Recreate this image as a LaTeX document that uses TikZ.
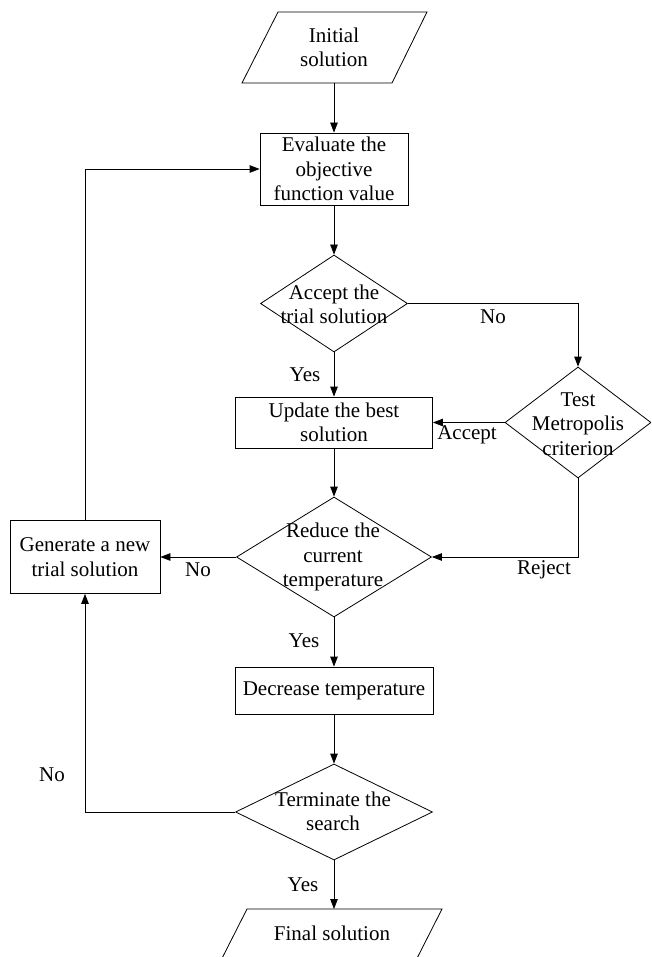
\documentclass[tikz,border=0pt]{standalone}
\usepackage{fontspec}
\setmainfont{Liberation Serif}
\usetikzlibrary{shapes.geometric,arrows.meta}
\begin{document}
\begin{tikzpicture}[x=1pt,y=-1pt, line width=0.8pt,
 txt/.style={font=\fontsize{21}{24.5}\selectfont, align=center, inner sep=0pt},
 box/.style={draw, rectangle, inner sep=0pt, txt},
 dia/.style={draw, diamond, inner sep=0pt},
 arr/.style={-{Triangle[length=10pt,width=7.5pt]}},
 lbl/.style={font=\fontsize{21}{24.5}\selectfont, inner sep=0pt}]
\clip (0,0) rectangle (651,957);
% parallelograms
\coordinate (i1) at (278,12); \coordinate (i2) at (427,12);
\coordinate (i3) at (392,83); \coordinate (i4) at (242,83);
\draw (i1) -- (i2) -- (i3) -- (i4) -- cycle;
\coordinate (initb) at (334,83);
\node[txt] (initt) at (334,47.5) {Initial\\solution};
\coordinate (f1) at (247,909); \coordinate (f2) at (442,909);
\coordinate (f3) at (406,980); \coordinate (f4) at (211,980);
\draw (f1) -- (f2) -- (f3) -- (f4) -- cycle;
\coordinate (fint) at (334,909);
\node[txt] (fintx) at (332,933) {Final solution};
% shapes
\node[box, minimum width=148pt, minimum height=72pt] (eval) at (334,169) {Evaluate the\\objective\\function value};
\node[dia, minimum width=147pt, minimum height=97pt] (acc) at (334,303.5) {};
\node[txt] (acct) at (334,304.5) {Accept the\\trial solution};
\node[box, minimum width=197pt, minimum height=51pt] (upd) at (334,422.5) {Update the best\\solution};
\node[dia, minimum width=146pt, minimum height=111pt] (test) at (578,422.5) {};
\node[txt] (testt) at (578,424) {Test\\Metropolis\\criterion};
\node[dia, minimum width=195pt, minimum height=120pt] (red) at (334,557) {};
\node[txt] (redt) at (333,557) {Reduce the\\current\\temperature};
\node[box, minimum width=150pt, minimum height=73pt] (gen) at (85,557) {Generate a new\\trial solution};
\node[box, minimum width=198pt, minimum height=47pt] (dec) at (334,690.5) {Decrease temperature};
\node[dia, minimum width=197pt, minimum height=96pt] (term) at (334,812) {};
\node[txt] (termt) at (333,811.5) {Terminate the\\search};
% connectors
\coordinate (c1) at (578,303.5);
\coordinate (c2) at (578,557);
\coordinate (c3) at (85,169);
\coordinate (c4) at (85,812);
\draw[arr] (initb) -- (initb |- eval.north);
\draw[arr] (eval.south) -- (acc.north);
\draw[arr] (acc.south) -- (upd.north);
\draw[arr] (acc.east) -- (c1) -- (test.north);
\draw[arr] (test.west) -- (upd.east);
\draw[arr] (upd.south) -- (red.north);
\draw[arr] (test.south) -- (c2) -- (red.east);
\draw[arr] (red.west) -- (gen.east);
\draw[arr] (gen.north) -- (c3) -- (eval.west);
\draw[arr] (red.south) -- (dec.north);
\draw[arr] (dec.south) -- (term.north);
\draw[arr] (term.west) -- (c4) -- (gen.south);
\draw[arr] (term.south) -- (fint);
% labels
\node[lbl] (l1) at (493,317) {No};
\node[lbl] (l2) at (305,375) {Yes};
\node[lbl] (l3) at (467,435) {Accept};
\node[lbl] (l4) at (544,570) {Reject};
\node[lbl] (l5) at (198,570) {No};
\node[lbl] (l6) at (304,641) {Yes};
\node[lbl] (l7) at (52,775) {No};
\node[lbl] (l8) at (303,885) {Yes};
\end{tikzpicture}
\end{document}
